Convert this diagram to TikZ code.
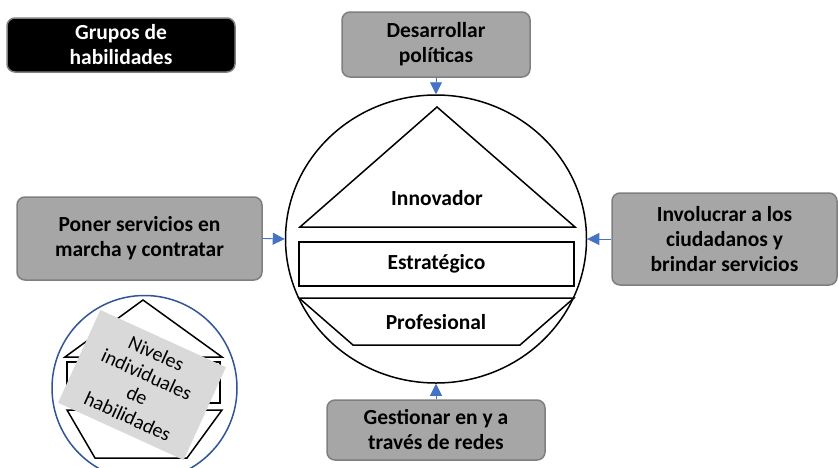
\documentclass[tikz,border=0pt]{standalone}
\usepackage{fontspec}
\setmainfont{Carlito}
\usetikzlibrary{arrows.meta,shapes.geometric}

\definecolor{boxgray}{HTML}{A6A6A6}
\definecolor{edgegray}{HTML}{7F7F7F}
\definecolor{flowblue}{HTML}{4472C4}
\definecolor{cardgray}{HTML}{D9D9D9}
\definecolor{ringblue}{HTML}{2F5597}

\tikzset{
  skill/.style={draw=edgegray, fill=boxgray, line width=1.5pt,
    rounded corners=8pt, align=center, inner sep=0pt,
    font=\bfseries\fontsize{21.5}{25}\selectfont},
  flow/.style={draw=flowblue, line width=0.9pt,
    -{Triangle[length=12pt,width=12pt]}, flowblue},
  tier/.style={font=\bfseries\fontsize{21.5}{25}\selectfont}
}

\begin{document}
\begin{tikzpicture}[x=1pt,y=-1pt]
  \useasboundingbox (0,0) rectangle (838,467);

  \begin{scope}
    \node[skill, fill=black, text=white, minimum width=228pt,
      minimum height=54pt] (head) at (121,45) {Grupos de\\habilidades};
    \node[skill, minimum width=188pt, minimum height=65pt] (dev) at
    (436,44.5) {Desarrollar\\políticas};
    \node[skill, minimum width=245pt, minimum height=83pt] (serve) at
    (139.5,238.5) {Poner servicios en\\marcha y contratar};
    \node[skill, minimum width=225pt, minimum height=92pt] (engage) at
    (724.5,239) {Involucrar a los\\ciudadanos y\\brindar servicios};
    \node[skill, minimum width=218pt, minimum height=60pt] (net) at
    (436,430) {Gestionar en y a\\través de redes};
  \end{scope}

  \node[ellipse, draw, line width=1.5pt, minimum width=301pt,
    minimum height=288pt, inner sep=0pt] (ring) at (436,239) {};

  \begin{scope}[line width=1.5pt]
    \draw (437,107) -- (575,227) -- (300,227) -- cycle;
    \node[tier] (innov) at (437,198) {Innovador};
    \node[tier, draw, minimum width=275pt, minimum height=44pt,
      inner sep=0pt] (strat) at (436.5,264) {Estratégico};
    \draw (299,298) -- (574,298) -- (520,345) -- (353,345) -- cycle;
    \node[tier] (prof) at (436,322) {Profesional};
  \end{scope}

  \begin{scope}[flow]
    \draw (dev.south) -- (ring.north);
    \draw (net.north) -- (ring.south);
    \draw (serve.east) -- (ring.west);
    \draw (engage.west) -- (ring.east);
  \end{scope}

  % levels badge
  \node[circle, draw=ringblue, line width=1.5pt, minimum size=185pt,
    inner sep=0pt] (badge) at (144.5,388) {};
  \begin{scope}[line width=1.5pt]
    \draw (143,300) -- (222,357) -- (65,357) -- cycle;
    \draw (67,362) rectangle (220,403);
    \draw (67,410) -- (222,410) -- (187,458) -- (95,458) -- cycle;
  \end{scope}
  \node[fill=cardgray, rotate=-24.5, minimum width=138pt,
    minimum height=102pt, inner sep=0pt, align=center,
    font=\fontsize{20}{23}\selectfont] (card) at (142,385)
  {Niveles\\individuales\\de\\habilidades};
\end{tikzpicture}
\end{document}
